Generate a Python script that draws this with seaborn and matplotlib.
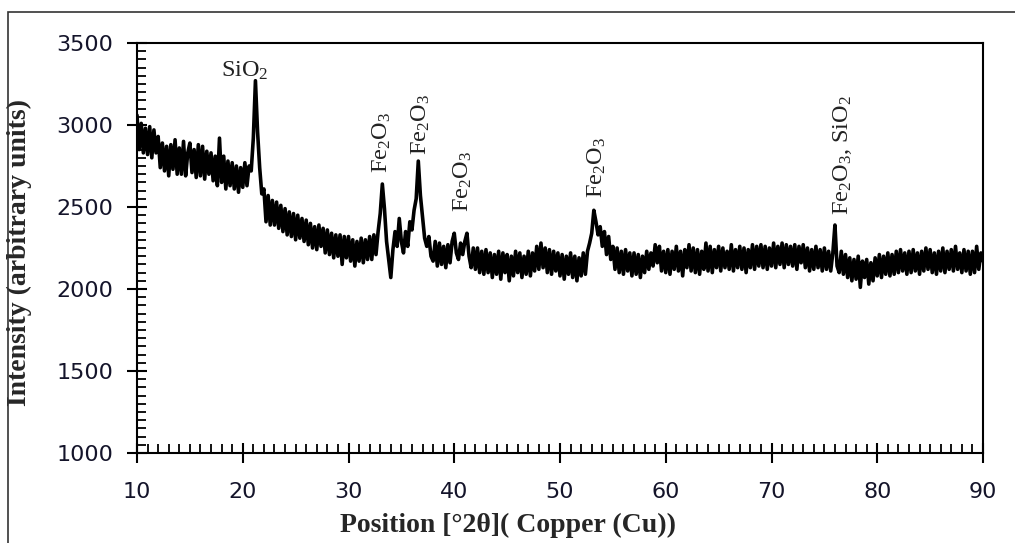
import numpy as np
import pandas as pd
import matplotlib
matplotlib.use("Agg")
import matplotlib.pyplot as plt
import seaborn as sns
from matplotlib.ticker import MultipleLocator
from matplotlib.patches import Rectangle

# ---------------- data ----------------
two_theta_start = 10.0
two_theta_step = 0.2
intensity = [
    3060, 2850, 3010, 2830, 2980,   # 10
    2820, 2990, 2800, 2970, 2830,   # 11
    2930, 2740, 2890, 2720, 2870,   # 12
    2690, 2880, 2730, 2910, 2700,   # 13
    2860, 2700, 2900, 2690, 2830,   # 14
    2890, 2710, 2850, 2680, 2880,   # 15
    2690, 2870, 2670, 2840, 2700,   # 16
    2830, 2660, 2810, 2630, 2920,   # 17
    2650, 2810, 2610, 2780, 2630,   # 18
    2770, 2610, 2750, 2590, 2740,   # 19
    2620, 2770, 2630, 2750, 2720,   # 20
    2920, 3270, 2960, 2740, 2580,   # 21
    2610, 2410, 2570, 2390, 2540,   # 22
    2390, 2530, 2370, 2510, 2350,   # 23
    2490, 2330, 2470, 2320, 2460,   # 24
    2300, 2450, 2310, 2430, 2290,   # 25
    2420, 2270, 2400, 2250, 2380,   # 26
    2240, 2390, 2260, 2370, 2220,   # 27
    2360, 2210, 2340, 2190, 2330,   # 28
    2200, 2330, 2150, 2320, 2190,   # 29
    2320, 2170, 2300, 2140, 2290,   # 30
    2170, 2310, 2160, 2300, 2180,   # 31
    2320, 2180, 2330, 2210, 2350,   # 32
    2460, 2640, 2490, 2290, 2180,   # 33
    2070, 2240, 2350, 2260, 2430,   # 34
    2290, 2220, 2350, 2260, 2410,   # 35
    2360, 2480, 2550, 2780, 2570,   # 36
    2440, 2310, 2260, 2320, 2200,   # 37
    2170, 2290, 2140, 2280, 2150,   # 38
    2260, 2130, 2270, 2160, 2290,   # 39
    2340, 2220, 2180, 2280, 2210,   # 40
    2290, 2340, 2200, 2130, 2250,   # 41
    2120, 2250, 2100, 2230, 2090,   # 42
    2240, 2100, 2220, 2070, 2210,   # 43
    2090, 2230, 2060, 2220, 2100,   # 44
    2210, 2050, 2200, 2080, 2230,   # 45
    2100, 2220, 2070, 2200, 2090,   # 46
    2230, 2080, 2220, 2110, 2260,   # 47
    2120, 2280, 2130, 2250, 2100,   # 48
    2240, 2090, 2230, 2110, 2220,   # 49
    2080, 2210, 2060, 2200, 2090,   # 50
    2220, 2070, 2200, 2050, 2190,   # 51
    2080, 2220, 2090, 2230, 2280,   # 52
    2340, 2480, 2410, 2330, 2380,   # 53
    2260, 2350, 2210, 2320, 2180,   # 54
    2260, 2120, 2250, 2100, 2230,   # 55
    2090, 2240, 2110, 2220, 2080,   # 56
    2220, 2090, 2210, 2070, 2200,   # 57
    2100, 2230, 2120, 2220, 2140,   # 58
    2270, 2160, 2260, 2110, 2230,   # 59
    2100, 2240, 2090, 2230, 2120,   # 60
    2260, 2110, 2230, 2080, 2240,   # 61
    2130, 2270, 2110, 2250, 2100,   # 62
    2240, 2090, 2230, 2120, 2280,   # 63
    2110, 2260, 2100, 2240, 2130,   # 64
    2260, 2110, 2250, 2130, 2230,   # 65
    2120, 2270, 2110, 2240, 2130,   # 66
    2260, 2120, 2250, 2100, 2240,   # 67
    2130, 2270, 2120, 2260, 2140,   # 68
    2270, 2130, 2260, 2120, 2250,   # 69
    2140, 2280, 2130, 2260, 2150,   # 70
    2280, 2130, 2270, 2150, 2260,   # 71
    2140, 2270, 2120, 2260, 2160,   # 72
    2270, 2130, 2250, 2110, 2240,   # 73
    2120, 2260, 2130, 2240, 2110,   # 74
    2250, 2120, 2230, 2110, 2220,   # 75
    2390, 2140, 2100, 2230, 2090,   # 76
    2210, 2070, 2190, 2050, 2180,   # 77
    2060, 2200, 2010, 2170, 2070,   # 78
    2180, 2030, 2160, 2050, 2190,   # 79
    2080, 2210, 2070, 2200, 2090,   # 80
    2220, 2080, 2210, 2090, 2230,   # 81
    2100, 2240, 2110, 2220, 2090,   # 82
    2230, 2100, 2240, 2110, 2220,   # 83
    2090, 2230, 2110, 2250, 2120,   # 84
    2240, 2100, 2220, 2090, 2230,   # 85
    2110, 2250, 2100, 2230, 2120,   # 86
    2240, 2110, 2260, 2120, 2220,   # 87
    2100, 2240, 2110, 2230, 2090,   # 88
    2230, 2100, 2260, 2120, 2220,   # 89
    2170,                           # 90
]
two_theta = two_theta_start + two_theta_step * np.arange(len(intensity))

peak_labels = ["SiO$_2$", "Fe$_2$O$_3$", "Fe$_2$O$_3$", "Fe$_2$O$_3$",
               "Fe$_2$O$_3$", "Fe$_2$O$_3$, SiO$_2$"]
peak_label_x = [20.2, 33.17, 36.86, 40.83, 53.5, 76.76]
peak_label_y = [3262, 2707, 2817, 2470, 2555, 2451]
peak_label_rot = [0, 90, 90, 90, 90, 90]

x_ticks = [10, 20, 30, 40, 50, 60, 70, 80, 90]
y_ticks = [1000, 1500, 2000, 2500, 3000, 3500]
x_label = "Position [°2θ]( Copper (Cu))"
y_label = "Intensity (arbitrary units)"

# ---------------- style ----------------
sns.set_theme(style="ticks")
plt.rcParams["font.family"] = ["DejaVu Sans"]
plt.rcParams["mathtext.fontset"] = "custom"
plt.rcParams["mathtext.rm"] = "Liberation Serif"
plt.rcParams["mathtext.it"] = "Liberation Serif:italic"
plt.rcParams["mathtext.bf"] = "Liberation Serif:bold"
plt.rcParams["mathtext.default"] = "rm"

fig = plt.figure(figsize=(10.15, 5.43), dpi=100)
fig.patch.set_facecolor("white")
ax = fig.add_axes([137 / 1015, 1 - 453 / 543, 846 / 1015, 410 / 543])

df = pd.DataFrame({"two_theta": two_theta, "intensity": intensity})
sns.lineplot(data=df, x="two_theta", y="intensity", ax=ax, color="black",
             linewidth=2.6, estimator=None, sort=False)

ax.set_xlim(x_ticks[0], x_ticks[-1])
ax.set_ylim(y_ticks[0], y_ticks[-1])
ax.set_xticks(x_ticks)
ax.set_yticks(y_ticks)
ax.xaxis.set_minor_locator(MultipleLocator(1))
ax.yaxis.set_minor_locator(MultipleLocator(50))

for s in ax.spines.values():
    s.set_linewidth(1.5)
    s.set_color("black")

ax.tick_params(axis="both", which="major", direction="inout", length=14,
               width=1.5, color="black", labelsize=16, labelcolor="#14142a")
ax.tick_params(axis="x", which="major", pad=14)
ax.tick_params(axis="y", which="major", pad=10)
ax.tick_params(axis="both", which="minor", direction="in", length=6.5,
               width=1.3, color="black")

ax.set_xlabel(x_label, fontsize=20, fontweight="bold",
              family="Liberation Serif")
ax.xaxis.set_label_coords((508 - 137) / 846, -0.145)
ax.set_ylabel(y_label, fontsize=20, fontweight="bold",
              family="Liberation Serif")
ax.yaxis.set_label_coords(-(137 - 32) / 846, 0.49)

for lab, lx, ly, rot in zip(peak_labels, peak_label_x, peak_label_y, peak_label_rot):
    ax.text(lx, ly, lab, rotation=rot, ha="center", va="bottom",
            fontsize=17.5, family="Liberation Serif", color="#222222")

# outer frame of the figure
fig.patches.append(Rectangle((8 / 1015, -0.1), 1.2, (543 - 12) / 543 + 0.1,
                             transform=fig.transFigure, fill=False,
                             edgecolor="#333333", linewidth=1.2, clip_on=False))

fig.savefig("out.png", dpi=100, facecolor="white")
